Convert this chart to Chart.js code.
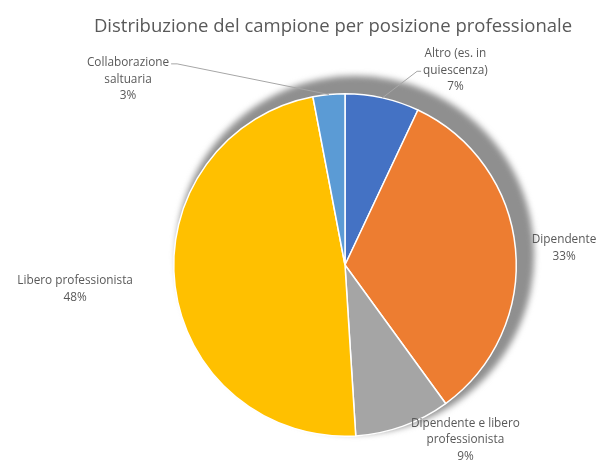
<!DOCTYPE html>
<html><head><meta charset="utf-8">
<script src="https://cdn.jsdelivr.net/npm/chart.js@4"></script>
<style>html,body{margin:0;padding:0;background:#fff;} canvas{display:block;}</style>
</head><body>
<canvas id="c" width="611" height="464"></canvas>
<script>
const titleText = 'Distribuzione del campione per posizione professionale';
const categories = ['Altro (es. in quiescenza)', 'Dipendente', 'Dipendente e libero professionista', 'Libero professionista', 'Collaborazione saltuaria'];
const labelLines = [['Altro (es. in', 'quiescenza)'], ['Dipendente'], ['Dipendente e libero', 'professionista'], ['Libero professionista'], ['Collaborazione', 'saltuaria']];
const values = [7, 33, 9, 48, 3];
const colors = ['#4472C4', '#ED7D31', '#A5A5A5', '#FFC000', '#5B9BD5'];
// label placement relative to the pie centre, in units of the outer radius
const labelAnchors = [[0.645, -1.137], [1.279, -0.099], [0.703, 1.02], [-1.576, 0.142], [-1.267, -1.084]];
// which text line a leader line starts from (null = no leader)
const leaderLine = [1, null, null, null, 0];

const LABEL_FONT = '11.8px "Open Sans"';
const LABEL_COLOR = '#595959';
const LINE_H = 16.5;

const shadowPlugin = {
  id: 'pieShadow',
  beforeDatasetsDraw(chart) {
    const arc = chart.getDatasetMeta(0).data[0];
    if (!arc) return;
    const {x, y, outerRadius} = arc;
    const ctx = chart.ctx;
    ctx.save();
    ctx.filter = 'blur(3px)';
    ctx.fillStyle = '#8f8f8f';
    ctx.beginPath();
    ctx.arc(x + outerRadius * 0.06, y - outerRadius * 0.06, outerRadius * 1.045, 0, Math.PI * 2);
    ctx.fill();
    ctx.restore();
  }
};

const labelPlugin = {
  id: 'pieLabels',
  afterDatasetsDraw(chart) {
    const meta = chart.getDatasetMeta(0);
    const ctx = chart.ctx;
    const total = values.reduce((a, b) => a + b, 0);
    ctx.save();
    ctx.font = LABEL_FONT;
    ctx.textBaseline = 'middle';
    ctx.textAlign = 'center';
    meta.data.forEach((arc, i) => {
      const {x, y, outerRadius, startAngle, endAngle} = arc;
      const lx = x + labelAnchors[i][0] * outerRadius;
      const ly = y + labelAnchors[i][1] * outerRadius;
      const lines = labelLines[i].concat([Math.round(values[i] / total * 100) + '%']);
      const y0 = ly - (lines.length - 1) * LINE_H / 2;
      // leader line
      if (leaderLine[i] !== null) {
        const li = leaderLine[i];
        const w = ctx.measureText(lines[li]).width;
        const ty = y0 + li * LINE_H + 1;
        const right = lx < x;
        const sx = right ? lx + w / 2 + 2 : lx - w / 2 - 2;
        const stub = right ? sx + 6 : sx - 4;
        const mid = (startAngle + endAngle) / 2;
        const ex = x + Math.cos(mid) * outerRadius;
        const ey = y + Math.sin(mid) * outerRadius;
        ctx.strokeStyle = '#a6a6a6';
        ctx.lineWidth = 1;
        ctx.beginPath();
        ctx.moveTo(sx, ty);
        ctx.lineTo(stub, ty);
        ctx.lineTo(ex, ey);
        ctx.stroke();
      }
      ctx.fillStyle = LABEL_COLOR;
      lines.forEach((t, k) => ctx.fillText(t, lx, y0 + k * LINE_H));
    });
    // title
    const a0 = meta.data[0];
    ctx.font = '18.5px "Open Sans"';
    ctx.fillStyle = '#595959';
    ctx.fillText(titleText, a0.x - a0.outerRadius * 0.07, 27);
    ctx.restore();
  }
};

new Chart(document.getElementById('c'), {
  type: 'pie',
  data: {
    labels: categories,
    datasets: [{
      data: values,
      backgroundColor: colors,
      borderColor: '#ffffff',
      borderWidth: 1.5
    }]
  },
  options: {
    responsive: false,
    animation: false,
    layout: {padding: {left: 173, right: 94, top: 93, bottom: 27}},
    plugins: {
      legend: {display: false},
      tooltip: {enabled: false},
      title: {display: false}
    }
  },
  plugins: [shadowPlugin, labelPlugin]
});
</script>
</body></html>
